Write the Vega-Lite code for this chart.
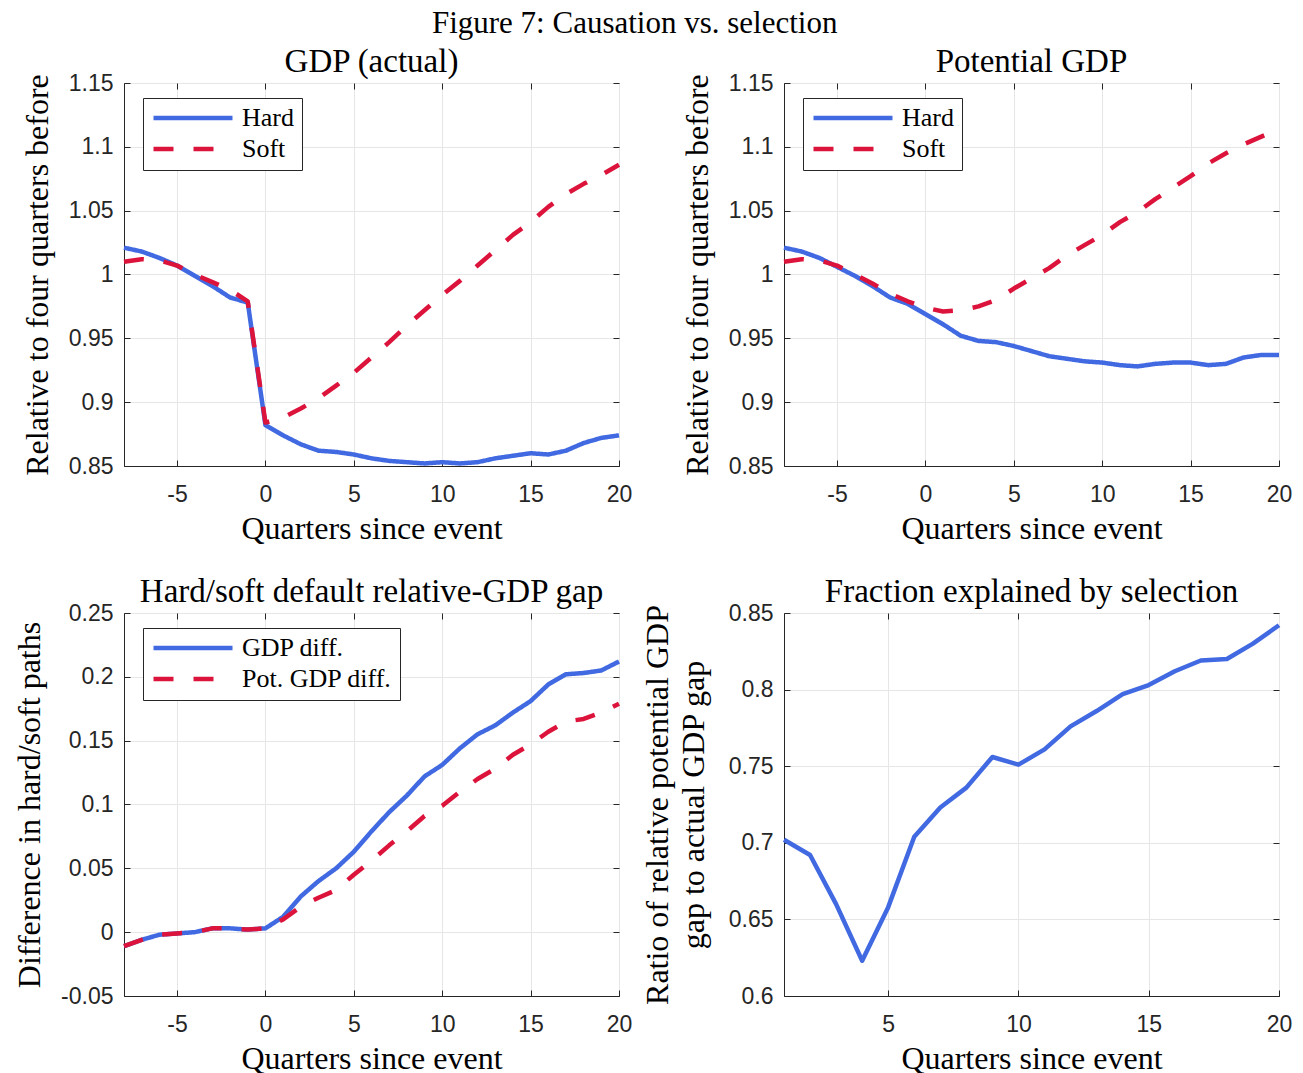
{
"$schema": "https://vega.github.io/schema/vega-lite/v6.json",
"background": "white",
"padding": {"left": 13, "top": 7, "right": 5, "bottom": 5},
"title": {"text": "Figure 7: Causation vs. selection", "fontSize": 31, "anchor": "middle", "frame": "bounds", "offset": 6, "dx": -18},
"columns": 2,
"spacing": {"row": 147, "column": 165},
"bounds": "flush",
"resolve": {"scale": {"color": "independent", "strokeDash": "independent"}, "legend": {"color": "independent", "strokeDash": "independent"}},
"datasets": {
"gdp": [
{"q":-8,"s":"Hard","v":1.021},{"q":-7,"s":"Hard","v":1.018},{"q":-6,"s":"Hard","v":1.013},{"q":-5,"s":"Hard","v":1.007},{"q":-4,"s":"Hard","v":0.999},{"q":-3,"s":"Hard","v":0.991},{"q":-2,"s":"Hard","v":0.982},{"q":-1,"s":"Hard","v":0.978},{"q":0,"s":"Hard","v":0.882},{"q":1,"s":"Hard","v":0.874},{"q":2,"s":"Hard","v":0.867},{"q":3,"s":"Hard","v":0.862},{"q":4,"s":"Hard","v":0.861},{"q":5,"s":"Hard","v":0.859},{"q":6,"s":"Hard","v":0.856},{"q":7,"s":"Hard","v":0.854},{"q":8,"s":"Hard","v":0.853},{"q":9,"s":"Hard","v":0.852},{"q":10,"s":"Hard","v":0.853},{"q":11,"s":"Hard","v":0.852},{"q":12,"s":"Hard","v":0.853},{"q":13,"s":"Hard","v":0.856},{"q":14,"s":"Hard","v":0.858},{"q":15,"s":"Hard","v":0.860},{"q":16,"s":"Hard","v":0.859},{"q":17,"s":"Hard","v":0.862},{"q":18,"s":"Hard","v":0.868},{"q":19,"s":"Hard","v":0.872},{"q":20,"s":"Hard","v":0.874},
{"q":-8,"s":"Soft","v":1.010},{"q":-7,"s":"Soft","v":1.012},{"q":-6,"s":"Soft","v":1.011},{"q":-5,"s":"Soft","v":1.007},{"q":-4,"s":"Soft","v":1.000},{"q":-3,"s":"Soft","v":0.994},{"q":-2,"s":"Soft","v":0.988},{"q":-1,"s":"Soft","v":0.979},{"q":0,"s":"Soft","v":0.884},{"q":1,"s":"Soft","v":0.888},{"q":2,"s":"Soft","v":0.895},{"q":3,"s":"Soft","v":0.903},{"q":4,"s":"Soft","v":0.913},{"q":5,"s":"Soft","v":0.923},{"q":6,"s":"Soft","v":0.935},{"q":7,"s":"Soft","v":0.947},{"q":8,"s":"Soft","v":0.960},{"q":9,"s":"Soft","v":0.972},{"q":10,"s":"Soft","v":0.984},{"q":11,"s":"Soft","v":0.995},{"q":12,"s":"Soft","v":1.007},{"q":13,"s":"Soft","v":1.019},{"q":14,"s":"Soft","v":1.031},{"q":15,"s":"Soft","v":1.041},{"q":16,"s":"Soft","v":1.053},{"q":17,"s":"Soft","v":1.063},{"q":18,"s":"Soft","v":1.071},{"q":19,"s":"Soft","v":1.078},{"q":20,"s":"Soft","v":1.086}
],
"pot": [
{"q":-8,"s":"Hard","v":1.021},{"q":-7,"s":"Hard","v":1.018},{"q":-6,"s":"Hard","v":1.013},{"q":-5,"s":"Hard","v":1.006},{"q":-4,"s":"Hard","v":0.999},{"q":-3,"s":"Hard","v":0.991},{"q":-2,"s":"Hard","v":0.982},{"q":-1,"s":"Hard","v":0.977},{"q":0,"s":"Hard","v":0.969},{"q":1,"s":"Hard","v":0.961},{"q":2,"s":"Hard","v":0.952},{"q":3,"s":"Hard","v":0.948},{"q":4,"s":"Hard","v":0.947},{"q":5,"s":"Hard","v":0.944},{"q":6,"s":"Hard","v":0.940},{"q":7,"s":"Hard","v":0.936},{"q":8,"s":"Hard","v":0.934},{"q":9,"s":"Hard","v":0.932},{"q":10,"s":"Hard","v":0.931},{"q":11,"s":"Hard","v":0.929},{"q":12,"s":"Hard","v":0.928},{"q":13,"s":"Hard","v":0.930},{"q":14,"s":"Hard","v":0.931},{"q":15,"s":"Hard","v":0.931},{"q":16,"s":"Hard","v":0.929},{"q":17,"s":"Hard","v":0.930},{"q":18,"s":"Hard","v":0.935},{"q":19,"s":"Hard","v":0.937},{"q":20,"s":"Hard","v":0.937},
{"q":-8,"s":"Soft","v":1.010},{"q":-7,"s":"Soft","v":1.012},{"q":-6,"s":"Soft","v":1.011},{"q":-5,"s":"Soft","v":1.007},{"q":-4,"s":"Soft","v":1.000},{"q":-3,"s":"Soft","v":0.993},{"q":-2,"s":"Soft","v":0.985},{"q":-1,"s":"Soft","v":0.979},{"q":0,"s":"Soft","v":0.974},{"q":1,"s":"Soft","v":0.971},{"q":2,"s":"Soft","v":0.972},{"q":3,"s":"Soft","v":0.975},{"q":4,"s":"Soft","v":0.980},{"q":5,"s":"Soft","v":0.989},{"q":6,"s":"Soft","v":0.997},{"q":7,"s":"Soft","v":1.005},{"q":8,"s":"Soft","v":1.015},{"q":9,"s":"Soft","v":1.023},{"q":10,"s":"Soft","v":1.031},{"q":11,"s":"Soft","v":1.041},{"q":12,"s":"Soft","v":1.049},{"q":13,"s":"Soft","v":1.059},{"q":14,"s":"Soft","v":1.068},{"q":15,"s":"Soft","v":1.077},{"q":16,"s":"Soft","v":1.087},{"q":17,"s":"Soft","v":1.095},{"q":18,"s":"Soft","v":1.102},{"q":19,"s":"Soft","v":1.108},{"q":20,"s":"Soft","v":1.114}
],
"gap": [
{"q":-8,"s":"GDP diff.","v":-0.011},{"q":-7,"s":"GDP diff.","v":-0.006},{"q":-6,"s":"GDP diff.","v":-0.002},{"q":-5,"s":"GDP diff.","v":-0.001},{"q":-4,"s":"GDP diff.","v":0.000},{"q":-3,"s":"GDP diff.","v":0.003},{"q":-2,"s":"GDP diff.","v":0.003},{"q":-1,"s":"GDP diff.","v":0.002},{"q":0,"s":"GDP diff.","v":0.003},{"q":1,"s":"GDP diff.","v":0.012},{"q":2,"s":"GDP diff.","v":0.028},{"q":3,"s":"GDP diff.","v":0.040},{"q":4,"s":"GDP diff.","v":0.050},{"q":5,"s":"GDP diff.","v":0.063},{"q":6,"s":"GDP diff.","v":0.079},{"q":7,"s":"GDP diff.","v":0.094},{"q":8,"s":"GDP diff.","v":0.107},{"q":9,"s":"GDP diff.","v":0.122},{"q":10,"s":"GDP diff.","v":0.131},{"q":11,"s":"GDP diff.","v":0.144},{"q":12,"s":"GDP diff.","v":0.155},{"q":13,"s":"GDP diff.","v":0.162},{"q":14,"s":"GDP diff.","v":0.172},{"q":15,"s":"GDP diff.","v":0.181},{"q":16,"s":"GDP diff.","v":0.194},{"q":17,"s":"GDP diff.","v":0.202},{"q":18,"s":"GDP diff.","v":0.203},{"q":19,"s":"GDP diff.","v":0.205},{"q":20,"s":"GDP diff.","v":0.212},
{"q":-8,"s":"Pot. GDP diff.","v":-0.011},{"q":-7,"s":"Pot. GDP diff.","v":-0.006},{"q":-6,"s":"Pot. GDP diff.","v":-0.002},{"q":-5,"s":"Pot. GDP diff.","v":-0.001},{"q":-4,"s":"Pot. GDP diff.","v":0.000},{"q":-3,"s":"Pot. GDP diff.","v":0.003},{"q":-2,"s":"Pot. GDP diff.","v":0.003},{"q":-1,"s":"Pot. GDP diff.","v":0.002},{"q":0,"s":"Pot. GDP diff.","v":0.003},{"q":1,"s":"Pot. GDP diff.","v":0.010},{"q":2,"s":"Pot. GDP diff.","v":0.020},{"q":3,"s":"Pot. GDP diff.","v":0.027},{"q":4,"s":"Pot. GDP diff.","v":0.033},{"q":5,"s":"Pot. GDP diff.","v":0.045},{"q":6,"s":"Pot. GDP diff.","v":0.056},{"q":7,"s":"Pot. GDP diff.","v":0.068},{"q":8,"s":"Pot. GDP diff.","v":0.079},{"q":9,"s":"Pot. GDP diff.","v":0.091},{"q":10,"s":"Pot. GDP diff.","v":0.099},{"q":11,"s":"Pot. GDP diff.","v":0.110},{"q":12,"s":"Pot. GDP diff.","v":0.120},{"q":13,"s":"Pot. GDP diff.","v":0.128},{"q":14,"s":"Pot. GDP diff.","v":0.139},{"q":15,"s":"Pot. GDP diff.","v":0.147},{"q":16,"s":"Pot. GDP diff.","v":0.157},{"q":17,"s":"Pot. GDP diff.","v":0.165},{"q":18,"s":"Pot. GDP diff.","v":0.167},{"q":19,"s":"Pot. GDP diff.","v":0.172},{"q":20,"s":"Pot. GDP diff.","v":0.179}
],
"ratio": [
{"q":1,"v":0.702},{"q":2,"v":0.692},{"q":3,"v":0.660},{"q":4,"v":0.623},{"q":5,"v":0.658},{"q":6,"v":0.704},{"q":7,"v":0.723},{"q":8,"v":0.736},{"q":9,"v":0.756},{"q":10,"v":0.751},{"q":11,"v":0.761},{"q":12,"v":0.776},{"q":13,"v":0.786},{"q":14,"v":0.797},{"q":15,"v":0.803},{"q":16,"v":0.812},{"q":17,"v":0.819},{"q":18,"v":0.820},{"q":19,"v":0.830},{"q":20,"v":0.842}
]
},
"concat": [
{
"title": "GDP (actual)",
"width": 495, "height": 383,
"data": {"name": "gdp"},
"layer": [
{"mark": {"type": "line", "strokeWidth": 4.5, "strokeCap": "butt", "strokeJoin": "round"},
"encoding": {
"x": {"field": "q", "type": "quantitative", "scale": {"domain": [-8, 20], "nice": false, "zero": false}, "axis": {"values": [-5, 0, 5, 10, 15, 20], "title": "Quarters since event"}},
"y": {"field": "v", "type": "quantitative", "scale": {"domain": [0.85, 1.15], "nice": false, "zero": false}, "axis": {"values": [0.85, 0.9, 0.95, 1, 1.05, 1.1, 1.15], "title": "Relative to four quarters before"}},
"color": {"field": "s", "type": "nominal", "scale": {"domain": ["Hard", "Soft"], "range": ["#4169E1", "#DC143C"]}, "legend": {"title": null, "orient": "none", "legendX": 19, "legendY": 15}},
"strokeDash": {"field": "s", "type": "nominal", "scale": {"domain": ["Hard", "Soft"], "range": [[1, 0], [20, 20]]}, "legend": {"title": null, "orient": "none", "legendX": 19, "legendY": 15}}
}},
{"mark": {"type": "point", "opacity": 0},
"encoding": {
"x": {"field": "q", "type": "quantitative", "axis": {"orient": "top", "values": [-5, 0, 5, 10, 15], "labels": false, "grid": false, "domain": false, "title": null}},
"y": {"field": "v", "type": "quantitative", "axis": {"orient": "right", "values": [0.85, 0.9, 0.95, 1, 1.05, 1.1, 1.15], "labels": false, "grid": false, "domain": false, "title": null}}
}}
],
"resolve": {"axis": {"x": "independent", "y": "independent"}}
},
{
"title": "Potential GDP",
"width": 495, "height": 383,
"data": {"name": "pot"},
"layer": [
{"mark": {"type": "line", "strokeWidth": 4.5, "strokeCap": "butt", "strokeJoin": "round"},
"encoding": {
"x": {"field": "q", "type": "quantitative", "scale": {"domain": [-8, 20], "nice": false, "zero": false}, "axis": {"values": [-5, 0, 5, 10, 15, 20], "title": "Quarters since event"}},
"y": {"field": "v", "type": "quantitative", "scale": {"domain": [0.85, 1.15], "nice": false, "zero": false}, "axis": {"values": [0.85, 0.9, 0.95, 1, 1.05, 1.1, 1.15], "title": "Relative to four quarters before"}},
"color": {"field": "s", "type": "nominal", "scale": {"domain": ["Hard", "Soft"], "range": ["#4169E1", "#DC143C"]}, "legend": {"title": null, "orient": "none", "legendX": 19, "legendY": 15}},
"strokeDash": {"field": "s", "type": "nominal", "scale": {"domain": ["Hard", "Soft"], "range": [[1, 0], [20, 20]]}, "legend": {"title": null, "orient": "none", "legendX": 19, "legendY": 15}}
}},
{"mark": {"type": "point", "opacity": 0},
"encoding": {
"x": {"field": "q", "type": "quantitative", "axis": {"orient": "top", "values": [-5, 0, 5, 10, 15], "labels": false, "grid": false, "domain": false, "title": null}},
"y": {"field": "v", "type": "quantitative", "axis": {"orient": "right", "values": [0.85, 0.9, 0.95, 1, 1.05, 1.1, 1.15], "labels": false, "grid": false, "domain": false, "title": null}}
}}
],
"resolve": {"axis": {"x": "independent", "y": "independent"}}
},
{
"title": "Hard/soft default relative-GDP gap",
"width": 495, "height": 383,
"data": {"name": "gap"},
"layer": [
{"mark": {"type": "line", "strokeWidth": 4.5, "strokeCap": "butt", "strokeJoin": "round"},
"encoding": {
"x": {"field": "q", "type": "quantitative", "scale": {"domain": [-8, 20], "nice": false, "zero": false}, "axis": {"values": [-5, 0, 5, 10, 15, 20], "title": "Quarters since event"}},
"y": {"field": "v", "type": "quantitative", "scale": {"domain": [-0.05, 0.25], "nice": false, "zero": false}, "axis": {"values": [-0.05, 0, 0.05, 0.1, 0.15, 0.2, 0.25], "title": "Difference in hard/soft paths"}},
"color": {"field": "s", "type": "nominal", "scale": {"domain": ["GDP diff.", "Pot. GDP diff."], "range": ["#4169E1", "#DC143C"]}, "legend": {"title": null, "orient": "none", "legendX": 19, "legendY": 15}},
"strokeDash": {"field": "s", "type": "nominal", "scale": {"domain": ["GDP diff.", "Pot. GDP diff."], "range": [[1, 0], [20, 20]]}, "legend": {"title": null, "orient": "none", "legendX": 19, "legendY": 15}}
}},
{"mark": {"type": "point", "opacity": 0},
"encoding": {
"x": {"field": "q", "type": "quantitative", "axis": {"orient": "top", "values": [-5, 0, 5, 10, 15], "labels": false, "grid": false, "domain": false, "title": null}},
"y": {"field": "v", "type": "quantitative", "axis": {"orient": "right", "values": [-0.05, 0, 0.05, 0.1, 0.15, 0.2, 0.25], "labels": false, "grid": false, "domain": false, "title": null}}
}}
],
"resolve": {"axis": {"x": "independent", "y": "independent"}}
},
{
"title": "Fraction explained by selection",
"width": 495, "height": 383,
"data": {"name": "ratio"},
"layer": [
{"mark": {"type": "line", "strokeWidth": 4.5, "strokeCap": "butt", "strokeJoin": "round", "color": "#4169E1"},
"encoding": {
"x": {"field": "q", "type": "quantitative", "scale": {"domain": [1, 20], "nice": false, "zero": false}, "axis": {"values": [5, 10, 15, 20], "title": "Quarters since event"}},
"y": {"field": "v", "type": "quantitative", "scale": {"domain": [0.6, 0.85], "nice": false, "zero": false}, "axis": {"values": [0.6, 0.65, 0.7, 0.75, 0.8, 0.85], "title": ["Ratio of relative potential GDP", "gap to actual GDP gap"], "titleLineHeight": 36, "titlePadding": 18}}
}},
{"mark": {"type": "point", "opacity": 0},
"encoding": {
"x": {"field": "q", "type": "quantitative", "axis": {"orient": "top", "values": [5, 10, 15], "labels": false, "grid": false, "domain": false, "title": null}},
"y": {"field": "v", "type": "quantitative", "axis": {"orient": "right", "values": [0.6, 0.65, 0.7, 0.75, 0.8, 0.85], "labels": false, "grid": false, "domain": false, "title": null}}
}}
],
"resolve": {"axis": {"x": "independent", "y": "independent"}}
}
],
"config": {
"font": "Liberation Serif",
"view": {"stroke": "#262626", "strokeWidth": 1},
"title": {"font": "Liberation Serif", "fontSize": 33, "fontWeight": "normal", "color": "#000000", "offset": -7},
"axis": {
"labelFont": "Liberation Sans", "labelFontSize": 23, "labelColor": "#262626",
"titleFont": "Liberation Serif", "titleFontSize": 32, "titleFontWeight": "normal", "titleColor": "#000000",
"domainColor": "#262626", "domainWidth": 1, "tickColor": "#262626", "tickWidth": 1, "tickSize": -6,
"gridColor": "#e6e6e6", "gridWidth": 1, "gridOpacity": 1,
"labelFlush": false, "labelOverlap": false,
"labelExpr": "datum.value < 0 ? '-' + format(-datum.value, '~g') : format(datum.value, '~g')"
},
"axisX": {"labelPadding": 23, "titlePadding": 7},
"axisY": {"labelPadding": 17, "titlePadding": 14},
"legend": {
"labelFont": "Liberation Serif", "labelFontSize": 26, "labelColor": "#000000",
"symbolType": "stroke", "symbolSize": 6241, "symbolStrokeWidth": 4.5,
"clipHeight": 24, "rowPadding": 5, "padding": 8,
"strokeColor": "#262626", "fillColor": "#ffffff", "labelOffset": 7, "labelLimit": 400
}
}
}
